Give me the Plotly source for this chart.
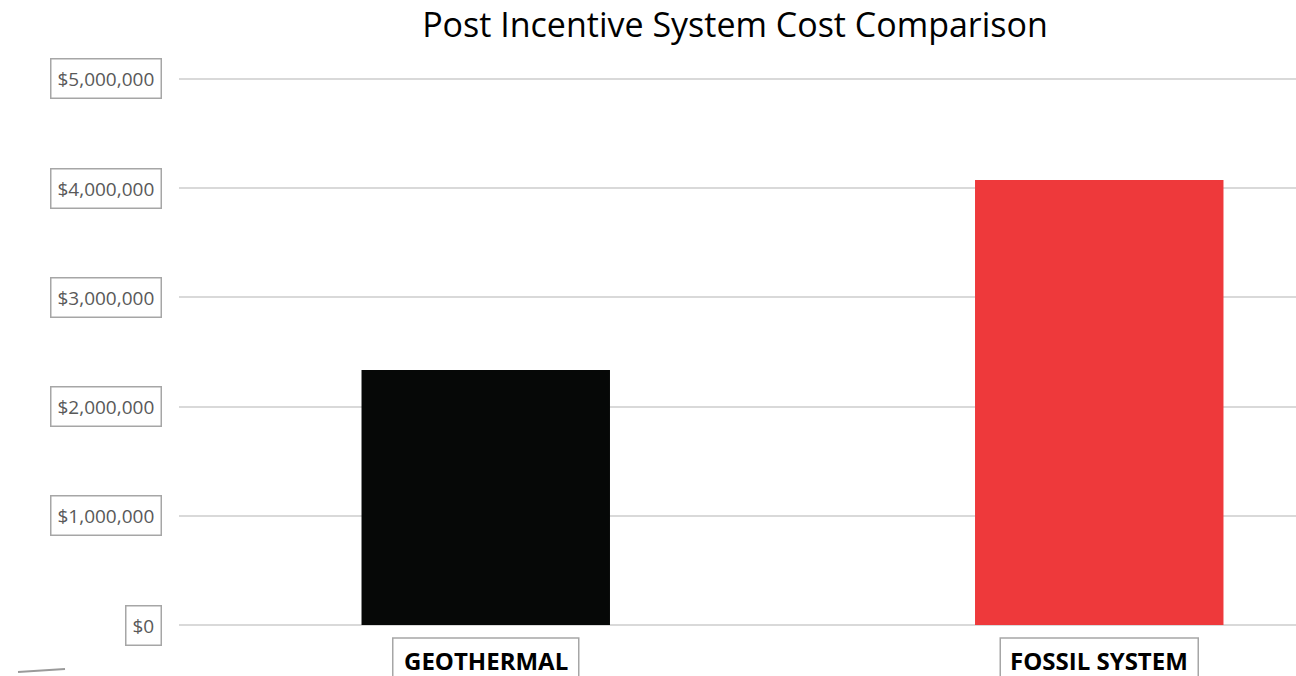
import plotly.graph_objects as go

categories = ["GEOTHERMAL", "FOSSIL SYSTEM"]
costs = [2335000, 4075000]
bar_colors = ["#060807", "#EE393B"]
tick_values = [0, 1000000, 2000000, 3000000, 4000000, 5000000]
tick_labels = ["$0", "$1,000,000", "$2,000,000", "$3,000,000", "$4,000,000", "$5,000,000"]

W, H = 1296, 676
ML, MR, MT, MB = 179, 0, 68, 51
plot_w = W - ML - MR
plot_h = H - MT - MB
px_per_cat = 613.5
label_box_px = [186, 198]   # widths of the boxed category labels (style)

fig = go.Figure()
fig.add_trace(go.Bar(
    x=categories, y=costs, marker=dict(color=bar_colors, line=dict(width=0)),
    width=0.405, hoverinfo="skip",
))

annotations = []
for v, lab in zip(tick_values, tick_labels):
    annotations.append(dict(
        x=(162 - ML) / plot_w, xref="paper", xanchor="right",
        y=v, yref="y", yanchor="middle",
        text=lab, showarrow=False,
        font=dict(family="Open Sans", size=19, color="#595959"),
        bordercolor="#a6a6a6", borderwidth=1.5, borderpad=6,
    ))

shapes = []
for i, c in enumerate(categories):
    annotations.append(dict(
        x=c, xref="x", xanchor="center",
        y=(625 - 661) / plot_h, yref="paper", yanchor="middle",
        text="<b>" + c + "</b>", showarrow=False,
        font=dict(family="Open Sans", size=24, color="#000000"),
    ))
    half = label_box_px[i] / 2 / px_per_cat
    shapes.append(dict(
        type="rect", xref="x", yref="paper",
        x0=i - half, x1=i + half,
        y0=(625 - 638) / plot_h, y1=(625 - 690) / plot_h,
        line=dict(color="#a6a6a6", width=1.5), fillcolor="rgba(0,0,0,0)",
        layer="below",
    ))

shapes.append(dict(type="line", xref="paper", yref="paper",
                   x0=(18 - ML) / plot_w, x1=(65 - ML) / plot_w,
                   y0=(625 - 672) / plot_h, y1=(625 - 669) / plot_h,
                   line=dict(color="#9a9a9a", width=2)))

fig.update_layout(
    width=W, height=H,
    margin=dict(l=ML, r=MR, t=MT, b=MB),
    paper_bgcolor="white", plot_bgcolor="white",
    showlegend=False,
    title=dict(text="Post Incentive System Cost Comparison",
               x=735 / W, xanchor="center", xref="container",
               y=1 - 25 / H, yanchor="middle",
               font=dict(family="Open Sans", size=34, color="#000000")),
    xaxis=dict(range=[-0.5, -0.5 + plot_w / px_per_cat], showticklabels=False,
               showgrid=False, zeroline=False, showline=False, ticks=""),
    yaxis=dict(range=[0, 5.1e6], tickvals=tick_values, showticklabels=False,
               showgrid=True, gridcolor="#d9d9d9", gridwidth=2,
               zeroline=True, zerolinecolor="#d9d9d9", zerolinewidth=2,
               showline=False, ticks=""),
    annotations=annotations,
    shapes=shapes,
)

fig.write_html("out.html")
